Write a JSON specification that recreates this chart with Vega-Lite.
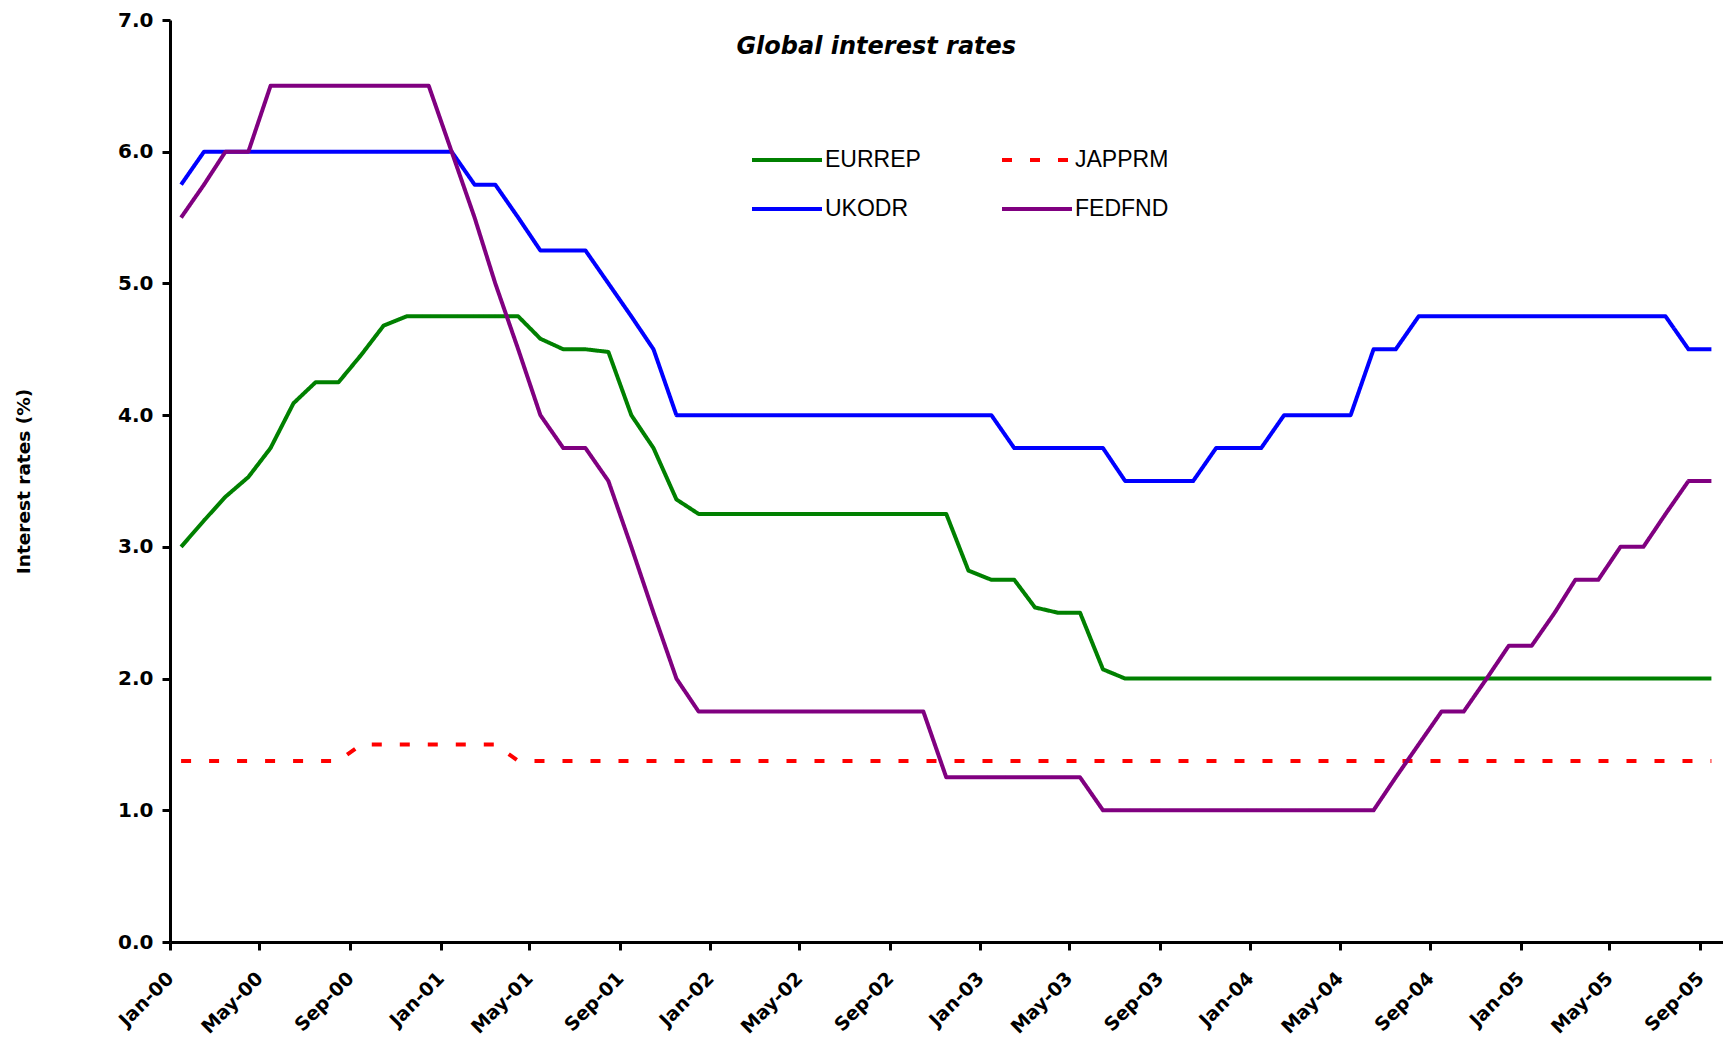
{
  "$schema": "https://vega.github.io/schema/vega-lite/v6.json",
  "autosize": {"type": "none"},
  "padding": {"left": 170, "top": 20, "right": 2.5, "bottom": 97},
  "width": 1552.5,
  "height": 922,
  "background": "white",
  "title": {
    "text": "Global interest rates",
    "font": "DejaVu Sans",
    "fontSize": 24,
    "fontWeight": "bold",
    "fontStyle": "italic",
    "color": "black",
    "anchor": "middle",
    "frame": "group",
    "baseline": "alphabetic",
    "offset": 0,
    "dx": -70,
    "dy": 68
  },
  "config": {
    "view": {"stroke": null},
    "axis": {
      "domainColor": "black",
      "domainWidth": 3,
      "tickColor": "black",
      "tickWidth": 3,
      "tickSize": 8,
      "grid": false,
      "labelColor": "black",
      "labelFont": "DejaVu Sans",
      "labelFontWeight": "bold",
      "labelFontSize": 20,
      "labelOverlap": false,
      "labelFlush": false,
      "labelBound": false
    }
  },
  "data": {
    "values": [
      {"month": "2000-01-16", "series": "EURREP", "rate": 3.00},
      {"month": "2000-02-16", "series": "EURREP", "rate": 3.20},
      {"month": "2000-03-16", "series": "EURREP", "rate": 3.38},
      {"month": "2000-04-16", "series": "EURREP", "rate": 3.53},
      {"month": "2000-05-16", "series": "EURREP", "rate": 3.75},
      {"month": "2000-06-16", "series": "EURREP", "rate": 4.09},
      {"month": "2000-07-16", "series": "EURREP", "rate": 4.25},
      {"month": "2000-08-16", "series": "EURREP", "rate": 4.25},
      {"month": "2000-09-16", "series": "EURREP", "rate": 4.46},
      {"month": "2000-10-16", "series": "EURREP", "rate": 4.68},
      {"month": "2000-11-16", "series": "EURREP", "rate": 4.75},
      {"month": "2000-12-16", "series": "EURREP", "rate": 4.75},
      {"month": "2001-01-16", "series": "EURREP", "rate": 4.75},
      {"month": "2001-02-16", "series": "EURREP", "rate": 4.75},
      {"month": "2001-03-16", "series": "EURREP", "rate": 4.75},
      {"month": "2001-04-16", "series": "EURREP", "rate": 4.75},
      {"month": "2001-05-16", "series": "EURREP", "rate": 4.58},
      {"month": "2001-06-16", "series": "EURREP", "rate": 4.50},
      {"month": "2001-07-16", "series": "EURREP", "rate": 4.50},
      {"month": "2001-08-16", "series": "EURREP", "rate": 4.48},
      {"month": "2001-09-16", "series": "EURREP", "rate": 4.00},
      {"month": "2001-10-16", "series": "EURREP", "rate": 3.75},
      {"month": "2001-11-16", "series": "EURREP", "rate": 3.36},
      {"month": "2001-12-16", "series": "EURREP", "rate": 3.25},
      {"month": "2002-01-16", "series": "EURREP", "rate": 3.25},
      {"month": "2002-02-16", "series": "EURREP", "rate": 3.25},
      {"month": "2002-03-16", "series": "EURREP", "rate": 3.25},
      {"month": "2002-04-16", "series": "EURREP", "rate": 3.25},
      {"month": "2002-05-16", "series": "EURREP", "rate": 3.25},
      {"month": "2002-06-16", "series": "EURREP", "rate": 3.25},
      {"month": "2002-07-16", "series": "EURREP", "rate": 3.25},
      {"month": "2002-08-16", "series": "EURREP", "rate": 3.25},
      {"month": "2002-09-16", "series": "EURREP", "rate": 3.25},
      {"month": "2002-10-16", "series": "EURREP", "rate": 3.25},
      {"month": "2002-11-16", "series": "EURREP", "rate": 3.25},
      {"month": "2002-12-16", "series": "EURREP", "rate": 2.82},
      {"month": "2003-01-16", "series": "EURREP", "rate": 2.75},
      {"month": "2003-02-16", "series": "EURREP", "rate": 2.75},
      {"month": "2003-03-16", "series": "EURREP", "rate": 2.54},
      {"month": "2003-04-16", "series": "EURREP", "rate": 2.50},
      {"month": "2003-05-16", "series": "EURREP", "rate": 2.50},
      {"month": "2003-06-16", "series": "EURREP", "rate": 2.07},
      {"month": "2003-07-16", "series": "EURREP", "rate": 2.00},
      {"month": "2003-08-16", "series": "EURREP", "rate": 2.00},
      {"month": "2003-09-16", "series": "EURREP", "rate": 2.00},
      {"month": "2003-10-16", "series": "EURREP", "rate": 2.00},
      {"month": "2003-11-16", "series": "EURREP", "rate": 2.00},
      {"month": "2003-12-16", "series": "EURREP", "rate": 2.00},
      {"month": "2004-01-16", "series": "EURREP", "rate": 2.00},
      {"month": "2004-02-16", "series": "EURREP", "rate": 2.00},
      {"month": "2004-03-16", "series": "EURREP", "rate": 2.00},
      {"month": "2004-04-16", "series": "EURREP", "rate": 2.00},
      {"month": "2004-05-16", "series": "EURREP", "rate": 2.00},
      {"month": "2004-06-16", "series": "EURREP", "rate": 2.00},
      {"month": "2004-07-16", "series": "EURREP", "rate": 2.00},
      {"month": "2004-08-16", "series": "EURREP", "rate": 2.00},
      {"month": "2004-09-16", "series": "EURREP", "rate": 2.00},
      {"month": "2004-10-16", "series": "EURREP", "rate": 2.00},
      {"month": "2004-11-16", "series": "EURREP", "rate": 2.00},
      {"month": "2004-12-16", "series": "EURREP", "rate": 2.00},
      {"month": "2005-01-16", "series": "EURREP", "rate": 2.00},
      {"month": "2005-02-16", "series": "EURREP", "rate": 2.00},
      {"month": "2005-03-16", "series": "EURREP", "rate": 2.00},
      {"month": "2005-04-16", "series": "EURREP", "rate": 2.00},
      {"month": "2005-05-16", "series": "EURREP", "rate": 2.00},
      {"month": "2005-06-16", "series": "EURREP", "rate": 2.00},
      {"month": "2005-07-16", "series": "EURREP", "rate": 2.00},
      {"month": "2005-08-16", "series": "EURREP", "rate": 2.00},
      {"month": "2005-09-16", "series": "EURREP", "rate": 2.00},

      {"month": "2000-01-16", "series": "JAPPRM", "rate": 1.375},
      {"month": "2000-02-16", "series": "JAPPRM", "rate": 1.375},
      {"month": "2000-03-16", "series": "JAPPRM", "rate": 1.375},
      {"month": "2000-04-16", "series": "JAPPRM", "rate": 1.375},
      {"month": "2000-05-16", "series": "JAPPRM", "rate": 1.375},
      {"month": "2000-06-16", "series": "JAPPRM", "rate": 1.375},
      {"month": "2000-07-16", "series": "JAPPRM", "rate": 1.375},
      {"month": "2000-08-16", "series": "JAPPRM", "rate": 1.375},
      {"month": "2000-09-16", "series": "JAPPRM", "rate": 1.5},
      {"month": "2000-10-16", "series": "JAPPRM", "rate": 1.5},
      {"month": "2000-11-16", "series": "JAPPRM", "rate": 1.5},
      {"month": "2000-12-16", "series": "JAPPRM", "rate": 1.5},
      {"month": "2001-01-16", "series": "JAPPRM", "rate": 1.5},
      {"month": "2001-02-16", "series": "JAPPRM", "rate": 1.5},
      {"month": "2001-03-16", "series": "JAPPRM", "rate": 1.5},
      {"month": "2001-04-16", "series": "JAPPRM", "rate": 1.375},
      {"month": "2001-05-16", "series": "JAPPRM", "rate": 1.375},
      {"month": "2001-06-16", "series": "JAPPRM", "rate": 1.375},
      {"month": "2001-07-16", "series": "JAPPRM", "rate": 1.375},
      {"month": "2001-08-16", "series": "JAPPRM", "rate": 1.375},
      {"month": "2001-09-16", "series": "JAPPRM", "rate": 1.375},
      {"month": "2001-10-16", "series": "JAPPRM", "rate": 1.375},
      {"month": "2001-11-16", "series": "JAPPRM", "rate": 1.375},
      {"month": "2001-12-16", "series": "JAPPRM", "rate": 1.375},
      {"month": "2002-01-16", "series": "JAPPRM", "rate": 1.375},
      {"month": "2002-02-16", "series": "JAPPRM", "rate": 1.375},
      {"month": "2002-03-16", "series": "JAPPRM", "rate": 1.375},
      {"month": "2002-04-16", "series": "JAPPRM", "rate": 1.375},
      {"month": "2002-05-16", "series": "JAPPRM", "rate": 1.375},
      {"month": "2002-06-16", "series": "JAPPRM", "rate": 1.375},
      {"month": "2002-07-16", "series": "JAPPRM", "rate": 1.375},
      {"month": "2002-08-16", "series": "JAPPRM", "rate": 1.375},
      {"month": "2002-09-16", "series": "JAPPRM", "rate": 1.375},
      {"month": "2002-10-16", "series": "JAPPRM", "rate": 1.375},
      {"month": "2002-11-16", "series": "JAPPRM", "rate": 1.375},
      {"month": "2002-12-16", "series": "JAPPRM", "rate": 1.375},
      {"month": "2003-01-16", "series": "JAPPRM", "rate": 1.375},
      {"month": "2003-02-16", "series": "JAPPRM", "rate": 1.375},
      {"month": "2003-03-16", "series": "JAPPRM", "rate": 1.375},
      {"month": "2003-04-16", "series": "JAPPRM", "rate": 1.375},
      {"month": "2003-05-16", "series": "JAPPRM", "rate": 1.375},
      {"month": "2003-06-16", "series": "JAPPRM", "rate": 1.375},
      {"month": "2003-07-16", "series": "JAPPRM", "rate": 1.375},
      {"month": "2003-08-16", "series": "JAPPRM", "rate": 1.375},
      {"month": "2003-09-16", "series": "JAPPRM", "rate": 1.375},
      {"month": "2003-10-16", "series": "JAPPRM", "rate": 1.375},
      {"month": "2003-11-16", "series": "JAPPRM", "rate": 1.375},
      {"month": "2003-12-16", "series": "JAPPRM", "rate": 1.375},
      {"month": "2004-01-16", "series": "JAPPRM", "rate": 1.375},
      {"month": "2004-02-16", "series": "JAPPRM", "rate": 1.375},
      {"month": "2004-03-16", "series": "JAPPRM", "rate": 1.375},
      {"month": "2004-04-16", "series": "JAPPRM", "rate": 1.375},
      {"month": "2004-05-16", "series": "JAPPRM", "rate": 1.375},
      {"month": "2004-06-16", "series": "JAPPRM", "rate": 1.375},
      {"month": "2004-07-16", "series": "JAPPRM", "rate": 1.375},
      {"month": "2004-08-16", "series": "JAPPRM", "rate": 1.375},
      {"month": "2004-09-16", "series": "JAPPRM", "rate": 1.375},
      {"month": "2004-10-16", "series": "JAPPRM", "rate": 1.375},
      {"month": "2004-11-16", "series": "JAPPRM", "rate": 1.375},
      {"month": "2004-12-16", "series": "JAPPRM", "rate": 1.375},
      {"month": "2005-01-16", "series": "JAPPRM", "rate": 1.375},
      {"month": "2005-02-16", "series": "JAPPRM", "rate": 1.375},
      {"month": "2005-03-16", "series": "JAPPRM", "rate": 1.375},
      {"month": "2005-04-16", "series": "JAPPRM", "rate": 1.375},
      {"month": "2005-05-16", "series": "JAPPRM", "rate": 1.375},
      {"month": "2005-06-16", "series": "JAPPRM", "rate": 1.375},
      {"month": "2005-07-16", "series": "JAPPRM", "rate": 1.375},
      {"month": "2005-08-16", "series": "JAPPRM", "rate": 1.375},
      {"month": "2005-09-16", "series": "JAPPRM", "rate": 1.375},

      {"month": "2000-01-16", "series": "UKODR", "rate": 5.75},
      {"month": "2000-02-16", "series": "UKODR", "rate": 6.0},
      {"month": "2000-03-16", "series": "UKODR", "rate": 6.0},
      {"month": "2000-04-16", "series": "UKODR", "rate": 6.0},
      {"month": "2000-05-16", "series": "UKODR", "rate": 6.0},
      {"month": "2000-06-16", "series": "UKODR", "rate": 6.0},
      {"month": "2000-07-16", "series": "UKODR", "rate": 6.0},
      {"month": "2000-08-16", "series": "UKODR", "rate": 6.0},
      {"month": "2000-09-16", "series": "UKODR", "rate": 6.0},
      {"month": "2000-10-16", "series": "UKODR", "rate": 6.0},
      {"month": "2000-11-16", "series": "UKODR", "rate": 6.0},
      {"month": "2000-12-16", "series": "UKODR", "rate": 6.0},
      {"month": "2001-01-16", "series": "UKODR", "rate": 6.0},
      {"month": "2001-02-16", "series": "UKODR", "rate": 5.75},
      {"month": "2001-03-16", "series": "UKODR", "rate": 5.75},
      {"month": "2001-04-16", "series": "UKODR", "rate": 5.5},
      {"month": "2001-05-16", "series": "UKODR", "rate": 5.25},
      {"month": "2001-06-16", "series": "UKODR", "rate": 5.25},
      {"month": "2001-07-16", "series": "UKODR", "rate": 5.25},
      {"month": "2001-08-16", "series": "UKODR", "rate": 5.0},
      {"month": "2001-09-16", "series": "UKODR", "rate": 4.75},
      {"month": "2001-10-16", "series": "UKODR", "rate": 4.5},
      {"month": "2001-11-16", "series": "UKODR", "rate": 4.0},
      {"month": "2001-12-16", "series": "UKODR", "rate": 4.0},
      {"month": "2002-01-16", "series": "UKODR", "rate": 4.0},
      {"month": "2002-02-16", "series": "UKODR", "rate": 4.0},
      {"month": "2002-03-16", "series": "UKODR", "rate": 4.0},
      {"month": "2002-04-16", "series": "UKODR", "rate": 4.0},
      {"month": "2002-05-16", "series": "UKODR", "rate": 4.0},
      {"month": "2002-06-16", "series": "UKODR", "rate": 4.0},
      {"month": "2002-07-16", "series": "UKODR", "rate": 4.0},
      {"month": "2002-08-16", "series": "UKODR", "rate": 4.0},
      {"month": "2002-09-16", "series": "UKODR", "rate": 4.0},
      {"month": "2002-10-16", "series": "UKODR", "rate": 4.0},
      {"month": "2002-11-16", "series": "UKODR", "rate": 4.0},
      {"month": "2002-12-16", "series": "UKODR", "rate": 4.0},
      {"month": "2003-01-16", "series": "UKODR", "rate": 4.0},
      {"month": "2003-02-16", "series": "UKODR", "rate": 3.75},
      {"month": "2003-03-16", "series": "UKODR", "rate": 3.75},
      {"month": "2003-04-16", "series": "UKODR", "rate": 3.75},
      {"month": "2003-05-16", "series": "UKODR", "rate": 3.75},
      {"month": "2003-06-16", "series": "UKODR", "rate": 3.75},
      {"month": "2003-07-16", "series": "UKODR", "rate": 3.5},
      {"month": "2003-08-16", "series": "UKODR", "rate": 3.5},
      {"month": "2003-09-16", "series": "UKODR", "rate": 3.5},
      {"month": "2003-10-16", "series": "UKODR", "rate": 3.5},
      {"month": "2003-11-16", "series": "UKODR", "rate": 3.75},
      {"month": "2003-12-16", "series": "UKODR", "rate": 3.75},
      {"month": "2004-01-16", "series": "UKODR", "rate": 3.75},
      {"month": "2004-02-16", "series": "UKODR", "rate": 4.0},
      {"month": "2004-03-16", "series": "UKODR", "rate": 4.0},
      {"month": "2004-04-16", "series": "UKODR", "rate": 4.0},
      {"month": "2004-05-16", "series": "UKODR", "rate": 4.0},
      {"month": "2004-06-16", "series": "UKODR", "rate": 4.5},
      {"month": "2004-07-16", "series": "UKODR", "rate": 4.5},
      {"month": "2004-08-16", "series": "UKODR", "rate": 4.75},
      {"month": "2004-09-16", "series": "UKODR", "rate": 4.75},
      {"month": "2004-10-16", "series": "UKODR", "rate": 4.75},
      {"month": "2004-11-16", "series": "UKODR", "rate": 4.75},
      {"month": "2004-12-16", "series": "UKODR", "rate": 4.75},
      {"month": "2005-01-16", "series": "UKODR", "rate": 4.75},
      {"month": "2005-02-16", "series": "UKODR", "rate": 4.75},
      {"month": "2005-03-16", "series": "UKODR", "rate": 4.75},
      {"month": "2005-04-16", "series": "UKODR", "rate": 4.75},
      {"month": "2005-05-16", "series": "UKODR", "rate": 4.75},
      {"month": "2005-06-16", "series": "UKODR", "rate": 4.75},
      {"month": "2005-07-16", "series": "UKODR", "rate": 4.75},
      {"month": "2005-08-16", "series": "UKODR", "rate": 4.5},
      {"month": "2005-09-16", "series": "UKODR", "rate": 4.5},

      {"month": "2000-01-16", "series": "FEDFND", "rate": 5.5},
      {"month": "2000-02-16", "series": "FEDFND", "rate": 5.75},
      {"month": "2000-03-16", "series": "FEDFND", "rate": 6.0},
      {"month": "2000-04-16", "series": "FEDFND", "rate": 6.0},
      {"month": "2000-05-16", "series": "FEDFND", "rate": 6.5},
      {"month": "2000-06-16", "series": "FEDFND", "rate": 6.5},
      {"month": "2000-07-16", "series": "FEDFND", "rate": 6.5},
      {"month": "2000-08-16", "series": "FEDFND", "rate": 6.5},
      {"month": "2000-09-16", "series": "FEDFND", "rate": 6.5},
      {"month": "2000-10-16", "series": "FEDFND", "rate": 6.5},
      {"month": "2000-11-16", "series": "FEDFND", "rate": 6.5},
      {"month": "2000-12-16", "series": "FEDFND", "rate": 6.5},
      {"month": "2001-01-16", "series": "FEDFND", "rate": 6.0},
      {"month": "2001-02-16", "series": "FEDFND", "rate": 5.5},
      {"month": "2001-03-16", "series": "FEDFND", "rate": 5.0},
      {"month": "2001-04-16", "series": "FEDFND", "rate": 4.5},
      {"month": "2001-05-16", "series": "FEDFND", "rate": 4.0},
      {"month": "2001-06-16", "series": "FEDFND", "rate": 3.75},
      {"month": "2001-07-16", "series": "FEDFND", "rate": 3.75},
      {"month": "2001-08-16", "series": "FEDFND", "rate": 3.5},
      {"month": "2001-09-16", "series": "FEDFND", "rate": 3.0},
      {"month": "2001-10-16", "series": "FEDFND", "rate": 2.5},
      {"month": "2001-11-16", "series": "FEDFND", "rate": 2.0},
      {"month": "2001-12-16", "series": "FEDFND", "rate": 1.75},
      {"month": "2002-01-16", "series": "FEDFND", "rate": 1.75},
      {"month": "2002-02-16", "series": "FEDFND", "rate": 1.75},
      {"month": "2002-03-16", "series": "FEDFND", "rate": 1.75},
      {"month": "2002-04-16", "series": "FEDFND", "rate": 1.75},
      {"month": "2002-05-16", "series": "FEDFND", "rate": 1.75},
      {"month": "2002-06-16", "series": "FEDFND", "rate": 1.75},
      {"month": "2002-07-16", "series": "FEDFND", "rate": 1.75},
      {"month": "2002-08-16", "series": "FEDFND", "rate": 1.75},
      {"month": "2002-09-16", "series": "FEDFND", "rate": 1.75},
      {"month": "2002-10-16", "series": "FEDFND", "rate": 1.75},
      {"month": "2002-11-16", "series": "FEDFND", "rate": 1.25},
      {"month": "2002-12-16", "series": "FEDFND", "rate": 1.25},
      {"month": "2003-01-16", "series": "FEDFND", "rate": 1.25},
      {"month": "2003-02-16", "series": "FEDFND", "rate": 1.25},
      {"month": "2003-03-16", "series": "FEDFND", "rate": 1.25},
      {"month": "2003-04-16", "series": "FEDFND", "rate": 1.25},
      {"month": "2003-05-16", "series": "FEDFND", "rate": 1.25},
      {"month": "2003-06-16", "series": "FEDFND", "rate": 1.0},
      {"month": "2003-07-16", "series": "FEDFND", "rate": 1.0},
      {"month": "2003-08-16", "series": "FEDFND", "rate": 1.0},
      {"month": "2003-09-16", "series": "FEDFND", "rate": 1.0},
      {"month": "2003-10-16", "series": "FEDFND", "rate": 1.0},
      {"month": "2003-11-16", "series": "FEDFND", "rate": 1.0},
      {"month": "2003-12-16", "series": "FEDFND", "rate": 1.0},
      {"month": "2004-01-16", "series": "FEDFND", "rate": 1.0},
      {"month": "2004-02-16", "series": "FEDFND", "rate": 1.0},
      {"month": "2004-03-16", "series": "FEDFND", "rate": 1.0},
      {"month": "2004-04-16", "series": "FEDFND", "rate": 1.0},
      {"month": "2004-05-16", "series": "FEDFND", "rate": 1.0},
      {"month": "2004-06-16", "series": "FEDFND", "rate": 1.0},
      {"month": "2004-07-16", "series": "FEDFND", "rate": 1.25},
      {"month": "2004-08-16", "series": "FEDFND", "rate": 1.5},
      {"month": "2004-09-16", "series": "FEDFND", "rate": 1.75},
      {"month": "2004-10-16", "series": "FEDFND", "rate": 1.75},
      {"month": "2004-11-16", "series": "FEDFND", "rate": 2.0},
      {"month": "2004-12-16", "series": "FEDFND", "rate": 2.25},
      {"month": "2005-01-16", "series": "FEDFND", "rate": 2.25},
      {"month": "2005-02-16", "series": "FEDFND", "rate": 2.5},
      {"month": "2005-03-16", "series": "FEDFND", "rate": 2.75},
      {"month": "2005-04-16", "series": "FEDFND", "rate": 2.75},
      {"month": "2005-05-16", "series": "FEDFND", "rate": 3.0},
      {"month": "2005-06-16", "series": "FEDFND", "rate": 3.0},
      {"month": "2005-07-16", "series": "FEDFND", "rate": 3.25},
      {"month": "2005-08-16", "series": "FEDFND", "rate": 3.5},
      {"month": "2005-09-16", "series": "FEDFND", "rate": 3.5}
    ]
  },
  "mark": {"type": "line", "strokeWidth": 4, "strokeJoin": "round"},
  "encoding": {
    "x": {
      "field": "month",
      "type": "temporal",
      "scale": {
        "type": "utc",
        "domain": [
          {"year": 2000, "month": 1, "date": 1, "utc": true},
          {"year": 2005, "month": 10, "date": 1, "utc": true}
        ]
      },
      "axis": {
        "title": null,
        "format": "%b-%y",
        "values": [
          {"year": 2000, "month": 1, "date": 1, "utc": true},
          {"year": 2000, "month": 5, "date": 1, "utc": true},
          {"year": 2000, "month": 9, "date": 1, "utc": true},
          {"year": 2001, "month": 1, "date": 1, "utc": true},
          {"year": 2001, "month": 5, "date": 1, "utc": true},
          {"year": 2001, "month": 9, "date": 1, "utc": true},
          {"year": 2002, "month": 1, "date": 1, "utc": true},
          {"year": 2002, "month": 5, "date": 1, "utc": true},
          {"year": 2002, "month": 9, "date": 1, "utc": true},
          {"year": 2003, "month": 1, "date": 1, "utc": true},
          {"year": 2003, "month": 5, "date": 1, "utc": true},
          {"year": 2003, "month": 9, "date": 1, "utc": true},
          {"year": 2004, "month": 1, "date": 1, "utc": true},
          {"year": 2004, "month": 5, "date": 1, "utc": true},
          {"year": 2004, "month": 9, "date": 1, "utc": true},
          {"year": 2005, "month": 1, "date": 1, "utc": true},
          {"year": 2005, "month": 5, "date": 1, "utc": true},
          {"year": 2005, "month": 9, "date": 1, "utc": true}
        ],
        "labelFontSize": 19,
        "labelAngle": -45,
        "labelAlign": "right",
        "labelBaseline": "middle",
        "labelPadding": 25
      }
    },
    "y": {
      "field": "rate",
      "type": "quantitative",
      "scale": {"domain": [0, 7], "nice": false, "zero": true},
      "axis": {
        "title": "Interest rates (%)",
        "titleFont": "DejaVu Sans",
        "titleFontWeight": "bold",
        "titleFontSize": 18.5,
        "titleColor": "black",
        "titleAngle": -90,
        "titleAlign": "center",
        "titleBaseline": "middle",
        "titleX": -147,
        "titleY": 461,
        "values": [0, 1, 2, 3, 4, 5, 6, 7],
        "format": ".1f",
        "labelPadding": 9
      }
    },
    "color": {
      "field": "series",
      "type": "nominal",
      "scale": {
        "domain": ["EURREP", "JAPPRM", "UKODR", "FEDFND"],
        "range": ["#008000", "#FF0000", "#0000FF", "#800080"]
      },
      "legend": {
        "title": null,
        "orient": "none",
        "legendX": 580,
        "legendY": 103,
        "direction": "horizontal",
        "columns": 2,
        "padding": 0,
        "symbolType": "stroke",
        "symbolSize": 4900,
        "symbolStrokeWidth": 4,
        "labelFont": "Liberation Sans",
        "labelFontSize": 23,
        "labelColor": "black",
        "labelOffset": 1,
        "labelLimit": 0,
        "columnPadding": 73,
        "rowPadding": -26
      }
    },
    "strokeDash": {
      "field": "series",
      "type": "nominal",
      "scale": {
        "domain": ["EURREP", "JAPPRM", "UKODR", "FEDFND"],
        "range": [[1, 0], [10, 18], [1, 0], [1, 0]]
      },
      "legend": {
        "title": null,
        "orient": "none",
        "legendX": 580,
        "legendY": 103,
        "direction": "horizontal",
        "columns": 2,
        "padding": 0,
        "symbolType": "stroke",
        "symbolSize": 4900,
        "symbolStrokeWidth": 4,
        "labelFont": "Liberation Sans",
        "labelFontSize": 23,
        "labelColor": "black",
        "labelOffset": 1,
        "labelLimit": 0,
        "columnPadding": 73,
        "rowPadding": -26
      }
    }
  }
}
